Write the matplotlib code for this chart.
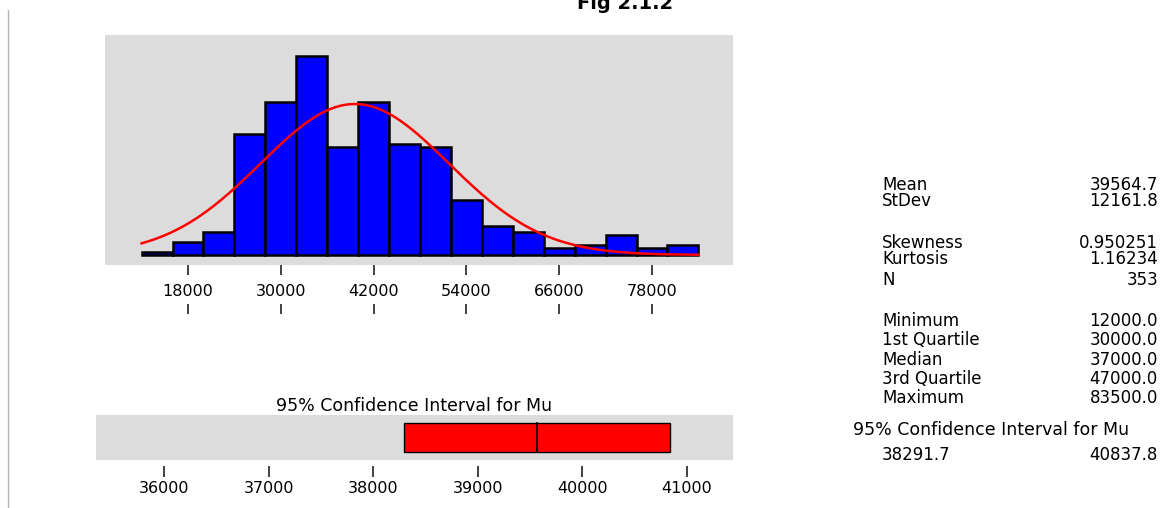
import numpy as np
import matplotlib
matplotlib.use("Agg")
import matplotlib.pyplot as plt
from matplotlib.lines import Line2D

# histogram of the sample (bins of 4000)
bin_edges = [12000, 16000, 20000, 24000, 28000, 32000, 36000, 40000, 44000, 48000,
             52000, 56000, 60000, 64000, 68000, 72000, 76000, 80000, 84000]
counts = [1, 4, 7, 37, 47, 61, 33, 47, 34, 33, 17, 9, 7, 2, 3, 6, 2, 3]
hist_ticks = [18000, 30000, 42000, 54000, 66000, 78000]

# summary statistics
mean = 39564.7
stdev = 12161.8
n_obs = 353
ci_low, ci_high = 38291.7, 40837.8
ci_ticks = [36000, 37000, 38000, 39000, 40000, 41000]

# stats table, in groups as laid out on the right
stat_groups = [
    (["Mean", "StDev"], ["39564.7", "12161.8"]),
    (["Skewness", "Kurtosis"], ["0.950251", "1.16234"]),
    (["N"], ["353"]),
    (["Minimum", "1st Quartile", "Median", "3rd Quartile", "Maximum"],
     ["12000.0", "30000.0", "37000.0", "47000.0", "83500.0"]),
]
group_top_px = [176, 234, 271, 312]
group_spacing = [0.85, 0.85, 1.0, 1.09]

W, H = 1165, 508
panel_gray = "#dcdcdc"
plt.rcParams["font.family"] = ["DejaVu Sans"]

fig = plt.figure(figsize=(W / 100, H / 100), dpi=100)

# ---- histogram with fitted normal curve
ax = fig.add_axes([105 / W, 1 - 265 / H, 628 / W, 230 / H])
ax.set_facecolor(panel_gray)
widths = np.diff(bin_edges)
ax.bar(bin_edges[:-1], counts, width=widths, align="edge",
       color="#0000ff", edgecolor="black", linewidth=1.8)
bw = widths[0]
xs = np.linspace(bin_edges[0], bin_edges[-1], 300)
pdf = np.exp(-0.5 * ((xs - mean) / stdev) ** 2) / (stdev * np.sqrt(2 * np.pi))
ax.plot(xs, n_obs * bw * pdf, color="#ff0000", linewidth=1.8)
ax.set_xlim(7270, 88470)
ax.set_ylim(-3.1, 67.5)
for s in ax.spines.values():
    s.set_visible(False)
ax.set_yticks([])
ax.set_xticks(hist_ticks)
ax.set_xticklabels([str(t) for t in hist_ticks])
ax.tick_params(axis="x", length=7, width=1.3, color="#333333", pad=7, labelsize=11.5)

# second row of tick marks under the labels
sec = ax.secondary_xaxis(-0.17)
sec.set_xticks(hist_ticks)
sec.set_xticklabels([""] * len(hist_ticks))
sec.tick_params(axis="x", length=7, width=1.3, color="#333333")
sec.spines["bottom"].set_visible(False)

# ---- confidence interval panel
ax2 = fig.add_axes([96 / W, 1 - 460 / H, 637 / W, 45 / H])
ax2.set_facecolor(panel_gray)
ax2.barh(0.5, ci_high - ci_low, left=ci_low, height=0.66,
         color="#ff0000", edgecolor="black", linewidth=1)
ax2.plot([mean, mean], [0.17, 0.83], color="black", linewidth=1.2)
ax2.set_xlim(35350, 41440)
ax2.set_ylim(0, 1)
ax2.set_yticks([])
ax2.set_xticks(ci_ticks)
ax2.set_xticklabels([str(t) for t in ci_ticks])
for s in ax2.spines.values():
    s.set_visible(False)
ax2.spines["bottom"].set_position(("outward", 4))
ax2.tick_params(axis="x", length=8, width=1.3, color="#333333", pad=3, labelsize=11.5)
ax2.set_title("95% Confidence Interval for Mu", fontsize=12.5, pad=2)

# ---- statistics table
for (labs, vals), top, sp in zip(stat_groups, group_top_px, group_spacing):
    fig.text(882 / W, 1 - top / H, "\n".join(labs), fontsize=12, va="top",
             ha="left", linespacing=sp)
    fig.text(1158 / W, 1 - top / H, "\n".join(vals), fontsize=12, va="top",
             ha="right", multialignment="right", linespacing=sp)
fig.text(991 / W, 1 - 430 / H, "95% Confidence Interval for Mu",
         fontsize=12.5, va="center", ha="center")
fig.text(882 / W, 1 - 455 / H, f"{ci_low:.1f}", fontsize=12, va="center", ha="left")
fig.text(1158 / W, 1 - 455 / H, f"{ci_high:.1f}", fontsize=12, va="center", ha="right")

# title, clipped at the top edge as in the source
fig.text(625 / W, 1 - 9 / H, "Fig 2.1.2", fontsize=14, fontweight="bold",
         ha="center", va="baseline")

# thin vertical rule at the left
fig.add_artist(Line2D([8 / W, 8 / W], [0, 1 - 10 / H], color="#b4b4b4", linewidth=1))

fig.savefig("out.png", dpi=100)
